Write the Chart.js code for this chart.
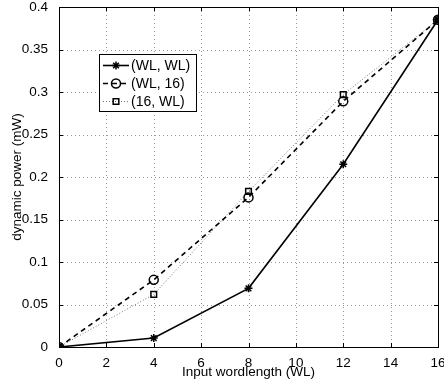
<!DOCTYPE html>
<html>
<head>
<meta charset="utf-8">
<script src="https://cdn.jsdelivr.net/npm/chart.js@4"></script>
<style>
  html, body { margin: 0; padding: 0; background: #fff; }
  #wrap { width: 444px; height: 383px; }
</style>
</head>
<body>
<div id="wrap"><canvas id="powerChart" width="444" height="383"></canvas></div>
<script>
// input wordlength values on the x axis
const wordlengths = [0, 4, 8, 12, 16];

// dynamic power (mW) for each configuration
const wlWl = [0, 0.0105, 0.069, 0.215, 0.385];
const wl16 = [0, 0.079, 0.176, 0.289, 0.385];
const w16Wl = [0, 0.062, 0.183, 0.297, 0.385];

const seriesNames = ["(WL, WL)", "(WL, 16)", "(16, WL)"];

const FONT = "'Liberation Sans', Arial, Helvetica, sans-serif";

function toPoints(ys) {
    return wordlengths.map((x, i) => ({ x: x, y: ys[i] }));
}

// dotted grid drawn under the lines
const dottedGrid = {
    id: "dottedGrid",
    beforeDatasetsDraw(chart) {
        const ctx = chart.ctx;
        const area = chart.chartArea;
        const xs = chart.scales.x;
        const ys = chart.scales.y;
        ctx.save();
        ctx.strokeStyle = "#999";
        ctx.lineWidth = 1;
        ctx.setLineDash([1, 3]);
        ctx.beginPath();
        xs.ticks.forEach(t => {
            const px = Math.round(xs.getPixelForValue(t.value)) + 0.5;
            ctx.moveTo(px, area.top); ctx.lineTo(px, area.bottom);
        });
        ys.ticks.forEach(t => {
            const py = Math.round(ys.getPixelForValue(t.value)) + 0.5;
            ctx.moveTo(area.left, py); ctx.lineTo(area.right, py);
        });
        ctx.stroke();
        ctx.restore();
    }
};

// frame, inward ticks and the legend box inside the plot (matlab look)
const matlabFrame = {
    id: "matlabFrame",
    afterDatasetsDraw(chart) {
        const ctx = chart.ctx;
        const area = chart.chartArea;
        const xs = chart.scales.x;
        const ys = chart.scales.y;
        ctx.save();
        ctx.strokeStyle = "#000";
        ctx.lineWidth = 1;
        ctx.strokeRect(Math.round(area.left) + 0.5, Math.round(area.top) + 0.5,
            Math.round(area.right - area.left), Math.round(area.bottom - area.top));

        // inward tick marks
        ctx.beginPath();
        xs.ticks.forEach(t => {
            const px = Math.round(xs.getPixelForValue(t.value)) + 0.5;
            ctx.moveTo(px, area.bottom); ctx.lineTo(px, area.bottom - 4);
            ctx.moveTo(px, area.top); ctx.lineTo(px, area.top + 4);
        });
        ys.ticks.forEach(t => {
            const py = Math.round(ys.getPixelForValue(t.value)) + 0.5;
            ctx.moveTo(area.left, py); ctx.lineTo(area.left + 4, py);
            ctx.moveTo(area.right, py); ctx.lineTo(area.right - 4, py);
        });
        ctx.stroke();

        // legend
        const box = { left: 99.5, top: 54.5, width: 97, height: 57 };
        ctx.fillStyle = "#fff";
        ctx.fillRect(box.left, box.top, box.width, box.height);
        ctx.strokeRect(box.left, box.top, box.width, box.height);
        ctx.font = "14px " + FONT;
        ctx.textBaseline = "middle";
        chart.data.datasets.forEach((ds, i) => {
            const y = 65.5 + i * 18;
            ctx.save();
            ctx.strokeStyle = ds.borderColor;
            ctx.lineWidth = ds.borderWidth;
            ctx.setLineDash(ds.borderDash || []);
            ctx.beginPath();
            ctx.moveTo(103, y);
            ctx.lineTo(129, y);
            ctx.stroke();
            ctx.restore();
            ctx.save();
            ctx.strokeStyle = ds.pointBorderColor;
            ctx.fillStyle = ds.pointBackgroundColor;
            ctx.lineWidth = ds.pointBorderWidth;
            Chart.helpers.drawPoint(ctx, {
                pointStyle: ds.pointStyle,
                radius: ds.pointRadius,
                borderWidth: ds.pointBorderWidth,
                rotation: 0
            }, 116, y);
            ctx.restore();
            ctx.fillStyle = "#000";
            ctx.fillText(seriesNames[i], 131, y + 1);
        });
        ctx.restore();
    }
};

const config = {
    type: "line",
    data: {
        datasets: [
            {
                label: seriesNames[0],
                data: toPoints(wlWl),
                borderColor: "#000",
                backgroundColor: "#000",
                borderWidth: 1.6,
                pointStyle: "star",
                pointRadius: 4,
                pointBorderWidth: 1.5,
                pointBorderColor: "#000",
                pointBackgroundColor: "#000",
            },
            {
                label: seriesNames[1],
                data: toPoints(wl16),
                borderColor: "#000",
                backgroundColor: "rgba(0,0,0,0)",
                borderWidth: 1.6,
                borderDash: [5, 4],
                pointStyle: "circle",
                pointRadius: 4.5,
                pointBorderWidth: 1.5,
                pointBorderColor: "#000",
                pointBackgroundColor: "rgba(0,0,0,0)",
            },
            {
                label: seriesNames[2],
                data: toPoints(w16Wl),
                borderColor: "#777",
                backgroundColor: "rgba(0,0,0,0)",
                borderWidth: 1,
                borderDash: [1, 2],
                pointStyle: "rect",
                pointRadius: 4,
                pointBorderWidth: 1.5,
                pointBorderColor: "#000",
                pointBackgroundColor: "rgba(0,0,0,0)",
            },
        ],
    },
    options: {
        responsive: false,
        animation: false,
        layout: { padding: { top: 7, right: 4, left: 0, bottom: 0 } },
        scales: {
            x: {
                type: "linear",
                min: 0,
                max: 16,
                ticks: {
                    stepSize: 2,
                    color: "#000",
                    font: { family: FONT, size: 13.5 },
                    padding: 0,
                    maxRotation: 0,
                },
                grid: { display: false },
                border: { display: false },
                title: {
                    display: true,
                    text: "Input wordlength (WL)",
                    color: "#000",
                    font: { family: FONT, size: 13.5 },
                    padding: { top: 0, bottom: 3 },
                },
                afterFit(scale) {
                    scale.height = 36;
                    scale.paddingLeft = 0;
                    scale.paddingRight = 0;
                },
            },
            y: {
                type: "linear",
                min: 0,
                max: 0.4,
                ticks: {
                    stepSize: 0.05,
                    color: "#000",
                    font: { family: FONT, size: 13.5 },
                    padding: 3,
                    callback: v => String(parseFloat(v.toFixed(2))),
                },
                grid: { display: false },
                border: { display: false },
                title: {
                    display: true,
                    text: "dynamic power (mW)",
                    color: "#000",
                    font: { family: FONT, size: 13.5 },
                    padding: { top: 9, bottom: 0 },
                },
                afterFit(scale) {
                    scale.width = 59;
                    scale.paddingTop = 0;
                    scale.paddingBottom = 0;
                },
            },
        },
        plugins: {
            legend: { display: false },
            tooltip: { enabled: false },
        },
    },
    plugins: [dottedGrid, matlabFrame],
};

new Chart(document.getElementById("powerChart").getContext("2d"), config);
</script>
</body>
</html>
